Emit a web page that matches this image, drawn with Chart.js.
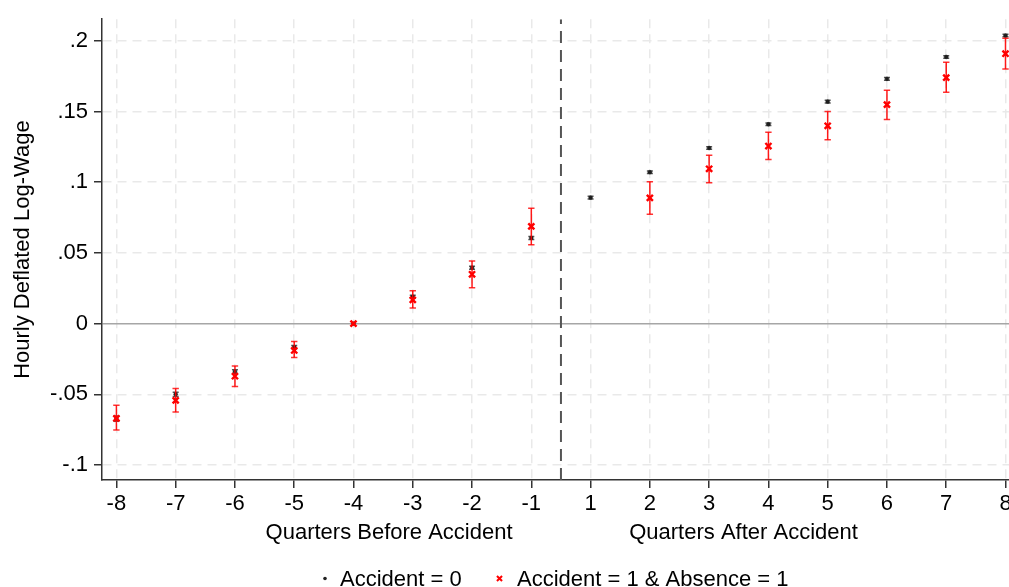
<!DOCTYPE html>
<html>
<head>
<meta charset="utf-8">
<script src="https://cdn.jsdelivr.net/npm/chart.js@4.4.1/dist/chart.umd.min.js"></script>
<style>
  html, body { margin: 0; padding: 0; background: #fff; overflow: hidden; }
  #wrap { width: 1009px; height: 587px; overflow: hidden; }
</style>
</head>
<body>
<div id="wrap"><canvas id="grafico" width="1017" height="587"></canvas></div>
<script>
// dados
const quarters = ['-8', '-7', '-6', '-5', '-4', '-3', '-2', '-1', '1', '2', '3', '4', '5', '6', '7', '8'];

const controle = [-0.0672, -0.0500, -0.0339, -0.0166, 0, 0.0190, 0.0395, 0.0606, 0.0891, 0.1071, 0.1242, 0.1410, 0.1570, 0.1731, 0.1886, 0.2037];
const controleLo = [-0.0690, -0.0515, -0.0352, -0.0178, 0, 0.0180, 0.0384, 0.0595, 0.0882, 0.1062, 0.1233, 0.1401, 0.1561, 0.1722, 0.1877, 0.2028];
const controleHi = [-0.0654, -0.0485, -0.0326, -0.0154, 0, 0.0200, 0.0406, 0.0617, 0.0900, 0.1080, 0.1251, 0.1419, 0.1579, 0.1740, 0.1895, 0.2046];

const tratado = [-0.0670, -0.0543, -0.0372, -0.0190, 0, 0.0168, 0.0349, 0.0688, null, 0.0889, 0.1095, 0.1256, 0.1399, 0.1549, 0.1740, 0.1909];
const tratadoLo = [-0.0753, -0.0625, -0.0445, -0.0240, 0, 0.0110, 0.0253, 0.0557, null, 0.0774, 0.0996, 0.1160, 0.1300, 0.1443, 0.1637, 0.1800];
const tratadoHi = [-0.0578, -0.0458, -0.0300, -0.0126, 0, 0.0232, 0.0442, 0.0816, null, 0.1004, 0.1190, 0.1354, 0.1500, 0.1651, 0.1848, 0.2019];

const yTicks = [-0.1, -0.05, 0, 0.05, 0.1, 0.15, 0.2];
const Y_MIN = -0.1106, Y_MAX = 0.2153;
const X_MIN = -0.243, X_MAX = 15.081;
const EVENTO = 7.5; // linha do acidente, entre -1 e 1

const FONTE = "'Liberation Sans', Arial, sans-serif";

// pontos e intervalos (com buracos entre as barras)
function pontos(vals) {
    return vals.map((v, i) => ({ x: i, y: v }));
}
function barras(lo, hi) {
    const out = [];
    lo.forEach((l, i) => {
        if (l === null || hi[i] === null || l === hi[i]) return;
        out.push({ x: i, y: l }, { x: i, y: hi[i] }, { x: i, y: null });
    });
    return out;
}

function fmtY(v) {
    if (Math.abs(v) < 1e-9) return '0';
    return String(Math.round(v * 1000) / 1000).replace('0.', '.');
}

// títulos do eixo x e legenda no estilo Stata
const extras = {
    id: 'extras',
    afterDraw(chart) {
        const ctx = chart.ctx;
        const sx = chart.scales.x;
        ctx.save();
        ctx.fillStyle = '#000';
        ctx.font = '22px ' + FONTE;
        ctx.textAlign = 'center';
        ctx.textBaseline = 'alphabetic';
        ctx.fillText('Quarters Before Accident', sx.getPixelForValue(4.6), 539);
        ctx.fillText('Quarters After Accident', sx.getPixelForValue(10.58), 539);

        // legenda
        const y = 578.5;
        ctx.fillStyle = '#222';
        ctx.beginPath(); ctx.arc(325, y, 1.8, 0, Math.PI * 2); ctx.fill();
        ctx.strokeStyle = '#ff0000';
        ctx.lineWidth = 2;
        Chart.helpers.drawPoint(ctx, { pointStyle: 'crossRot', radius: 3.6, borderWidth: 2 }, 499.5, y);
        ctx.fillStyle = '#000';
        ctx.textAlign = 'left';
        ctx.fillText('Accident = 0', 340, 585.5);
        ctx.fillText('Accident = 1 & Absence = 1', 517, 585.5);
        ctx.restore();
    }
};

const ctx = document.getElementById('grafico').getContext('2d');
new Chart(ctx, {
    type: 'scatter',
    data: {
        datasets: [
            {
                label: 'evento',
                data: [{ x: EVENTO, y: Y_MIN }, { x: EVENTO, y: Y_MAX }],
                showLine: true,
                borderColor: '#555555',
                borderWidth: 2,
                borderDash: [12, 7],
                pointRadius: 0,
                order: 6
            },
            {
                label: 'ic controle',
                data: barras(controleLo, controleHi),
                showLine: true,
                spanGaps: false,
                borderColor: '#777777',
                borderWidth: 1.5,
                pointStyle: 'line',
                pointRadius: 3,
                pointBorderColor: '#555555',
                pointBorderWidth: 1.5,
                order: 5
            },
            {
                label: 'Accident = 0',
                data: pontos(controle),
                pointStyle: 'circle',
                pointRadius: 1.9,
                pointBackgroundColor: '#1e1e1e',
                pointBorderColor: '#1e1e1e',
                pointBorderWidth: 0.5,
                order: 4
            },
            {
                label: 'ic tratado',
                data: barras(tratadoLo, tratadoHi),
                showLine: true,
                spanGaps: false,
                borderColor: 'rgba(255,0,0,0.9)',
                borderWidth: 1.5,
                pointStyle: 'line',
                pointRadius: 3.2,
                pointBorderColor: 'rgba(255,0,0,0.8)',
                pointBorderWidth: 1.5,
                order: 3
            },
            {
                label: 'Accident = 1 & Absence = 1',
                data: pontos(tratado),
                pointStyle: 'crossRot',
                pointRadius: 4.3,
                pointBorderColor: '#ff0000',
                pointBorderWidth: 2.4,
                order: 2
            }
        ]
    },
    options: {
        responsive: false,
        animation: false,
        events: [],
        layout: { padding: { left: 0, right: 0, top: 17, bottom: 47 } },
        plugins: {
            legend: { display: false },
            tooltip: { enabled: false }
        },
        scales: {
            x: {
                type: 'linear',
                min: X_MIN,
                max: X_MAX,
                afterBuildTicks: (axis) => { axis.ticks = quarters.map((q, i) => ({ value: i })); },
                afterFit: (axis) => { axis.height = 60; },
                ticks: {
                    autoSkip: false,
                    maxRotation: 0,
                    padding: 3,
                    color: '#000',
                    font: { family: FONTE, size: 22 },
                    callback: (v) => quarters[v]
                },
                grid: {
                    color: '#e9e9e9',
                    lineWidth: 1.5,
                    tickColor: '#333',
                    tickWidth: 1.5,
                    tickLength: 8,
                    tickBorderDash: []
                },
                border: { display: true, color: '#333', width: 1.5, dash: [9, 6] }
            },
            y: {
                min: Y_MIN,
                max: Y_MAX,
                afterBuildTicks: (axis) => { axis.ticks = yTicks.map(v => ({ value: v })); },
                afterFit: (axis) => { axis.width = 102; },
                ticks: {
                    padding: 6,
                    color: '#000',
                    font: { family: FONTE, size: 22 },
                    callback: (v) => fmtY(v)
                },
                title: {
                    display: true,
                    text: 'Hourly Deflated Log-Wage',
                    color: '#000',
                    font: { family: FONTE, size: 22 },
                    padding: { top: 10, bottom: 0 }
                },
                grid: {
                    color: (c) => (c.tick && Math.abs(c.tick.value) < 1e-9) ? '#a6a6a6' : '#e9e9e9',
                    lineWidth: 1.5,
                    tickColor: '#333',
                    tickWidth: 1.5,
                    tickLength: 8,
                    tickBorderDash: []
                },
                border: {
                    display: true, color: '#333', width: 1.5,
                    dash: (c) => (c.tick && Math.abs(c.tick.value) < 1e-9) ? [] : [9, 6]
                }
            }
        }
    },
    plugins: [extras]
});
</script>
</body>
</html>
